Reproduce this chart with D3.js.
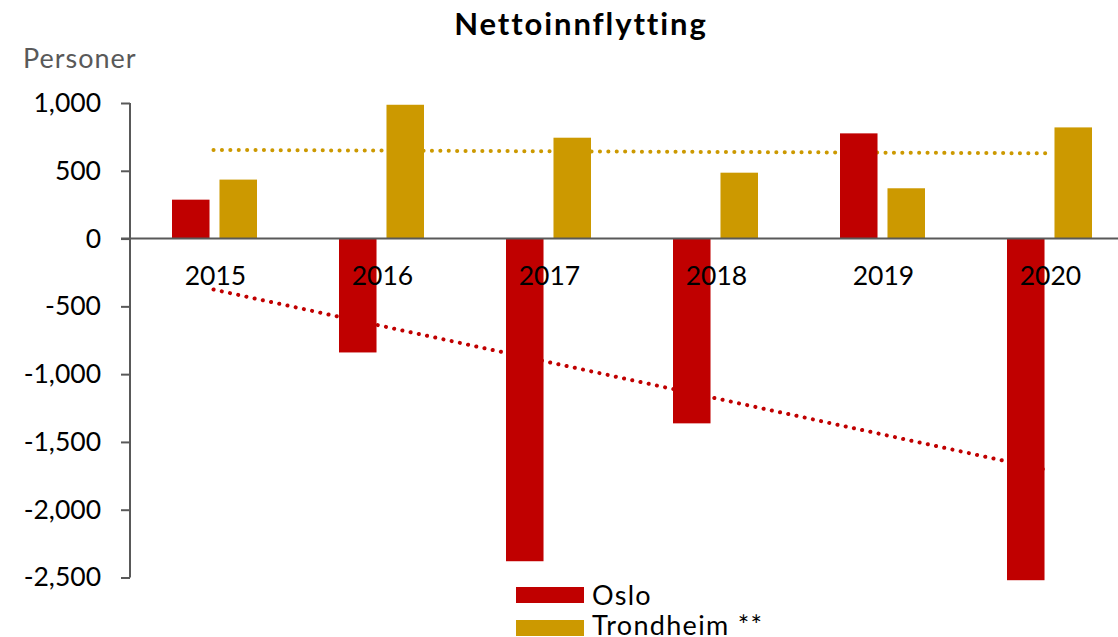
<!DOCTYPE html>
<html>
<head>
<meta charset="utf-8">
<script src="https://cdn.jsdelivr.net/npm/d3@7"></script>
<style>
  html, body { margin: 0; padding: 0; background: #fff; }
  svg { display: block; font-family: Lato, "Noto Sans", sans-serif; }
</style>
</head>
<body>
<svg id="chart" width="1118" height="637"></svg>
<script>
const years = ["2015", "2016", "2017", "2018", "2019", "2020"];
const oslo = [287, -840, -2380, -1363, 776, -2520];
const trondheim = [435, 987, 744, 486, 371, 820];
const trendOslo = [-376, -1710];       // trendline endpoints at 2015 and 2020
const trendTrondheim = [654, 629];
const yTicks = [1000, 500, 0, -500, -1000, -1500, -2000, -2500];
const seriesNames = ["Oslo", "Trondheim **"];
const colors = ["#C00000", "#CC9900"];

const svg = d3.select("#chart");
const fmt = v => d3.format(",")(v).replace("\u2212", "-");

const x = d3.scaleBand().domain(years).range([131, 1133]).paddingInner(0).paddingOuter(0);
const inner = d3.scaleBand().domain([0, 1]).range([41, x.bandwidth() - 41]).paddingInner(0.21);
const y = d3.scaleLinear().domain([-2500, 1000]).range([577.5, 103]);

// Title
svg.append("text").attr("x", 581).attr("y", 35).attr("text-anchor", "middle")
  .attr("font-size", 31).attr("font-weight", "bold").attr("letter-spacing", 1.9)
  .style("font-variant-ligatures", "none")
  .attr("fill", "#000").text("Nettoinnflytting");
svg.append("text").attr("x", 23).attr("y", 67.5).attr("font-size", 27).attr("letter-spacing", 1)
  .attr("fill", "#595959").text("Personer");

// Trendlines (behind bars)
const cx = d => x(d) + x.bandwidth() / 2 - 1;
[[trendTrondheim, colors[1]], [trendOslo, colors[0]]].forEach(([t, c]) => {
  svg.append("line")
    .attr("x1", cx(years[0])).attr("x2", cx(years[years.length - 1]))
    .attr("y1", y(t[0])).attr("y2", y(t[1]))
    .attr("stroke", c).attr("stroke-width", 4)
    .attr("stroke-linecap", "round").attr("stroke-dasharray", "0.1 8.3");
});

// Y axis
const yAxis = d3.axisLeft(y).tickValues(yTicks).tickFormat(fmt).tickSize(9).tickPadding(20);
const gy = svg.append("g").attr("transform", "translate(130,0)").call(yAxis);
gy.select(".domain").attr("stroke", "#595959").attr("stroke-width", 2).attr("d", `M0,${y(1000)}V${y(-2500)}`);
gy.selectAll(".tick line").attr("stroke", "#595959").attr("stroke-width", 2);
gy.selectAll(".tick text").attr("font-size", 26.5).attr("fill", "#000").attr("font-family", "Lato, 'Noto Sans', sans-serif");

// Bars
const data = years.map((yr, i) => ({ yr, vals: [oslo[i], trondheim[i]] }));
const groups = svg.append("g").selectAll("g").data(data).join("g")
  .attr("transform", d => `translate(${x(d.yr)},0)`);
groups.selectAll("rect").data(d => d.vals.map((v, k) => ({ v, k }))).join("rect")
  .attr("x", d => inner(d.k))
  .attr("width", inner.bandwidth())
  .attr("y", d => y(Math.max(0, d.v)))
  .attr("height", d => Math.abs(y(d.v) - y(0)))
  .attr("fill", d => colors[d.k]);

// Zero line
svg.append("line").attr("x1", 121).attr("x2", 1118).attr("y1", y(0)).attr("y2", y(0))
  .attr("stroke", "#595959").attr("stroke-width", 2);

// X labels
svg.append("g").selectAll("text").data(years).join("text")
  .attr("x", d => x(d) + x.bandwidth() / 2 + 1)
  .attr("y", 285)
  .attr("text-anchor", "middle").attr("font-size", 26.5).attr("fill", "#000")
  .text(d => d);

// Legend
const leg = svg.append("g").selectAll("g").data(seriesNames).join("g")
  .attr("transform", (d, i) => `translate(516,${587 + i * 33})`);
leg.append("rect").attr("width", 68).attr("height", 16).attr("fill", (d, i) => colors[i]);
leg.append("text").attr("x", 76).attr("y", (d, i) => i === 0 ? 18 : 14.5)
  .attr("font-size", 27).attr("letter-spacing", 1.3)
  .attr("fill", "#000").text(d => d);
</script>
</body>
</html>
